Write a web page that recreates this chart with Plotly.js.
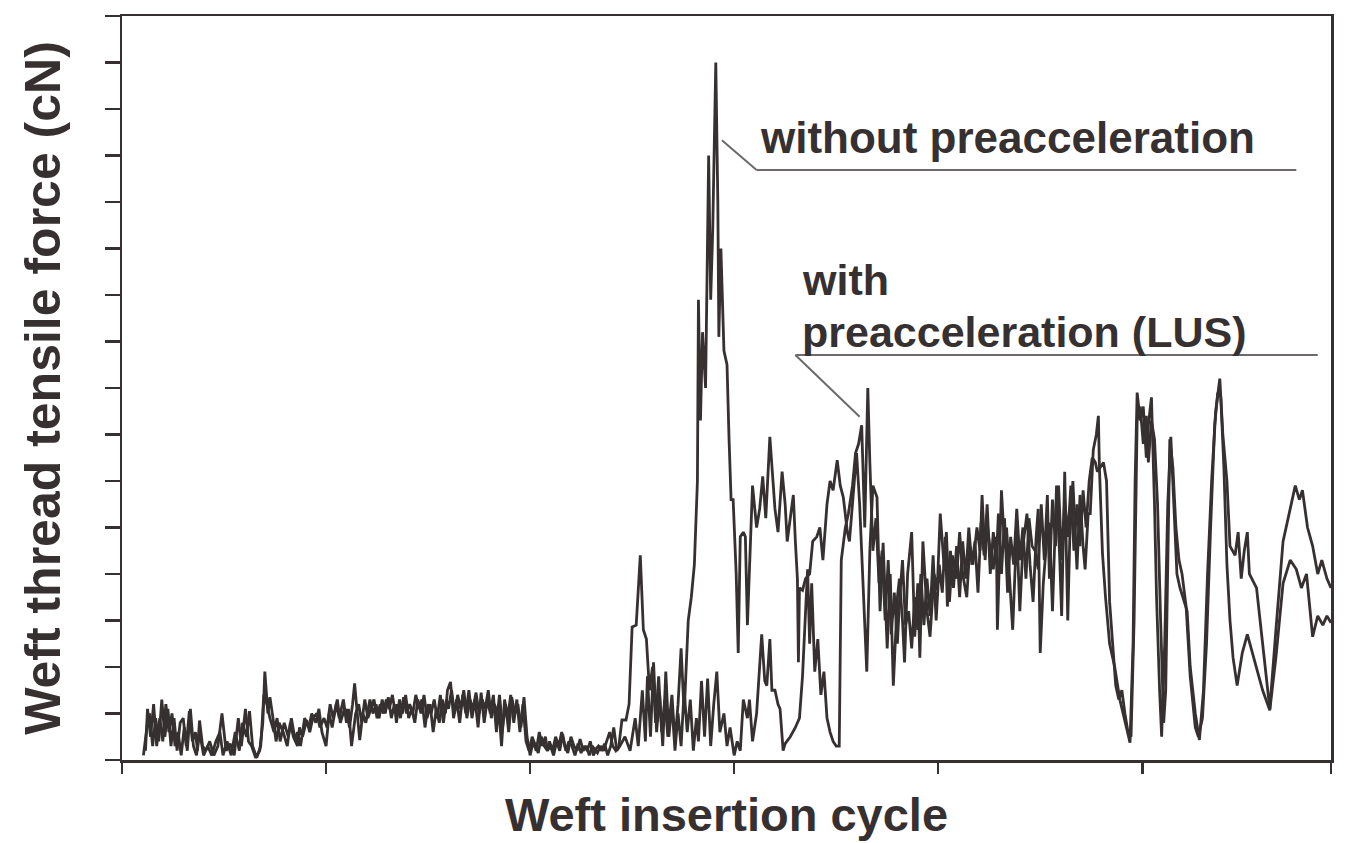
<!DOCTYPE html>
<html>
<head>
<meta charset="utf-8">
<script src="https://cdn.plot.ly/plotly-3.0.1.min.js"></script>
<style>
html,body{margin:0;padding:0;background:#ffffff;}
#chart{width:1345px;height:843px;}
</style>
</head>
<body>
<div id="chart"></div>
<script>
// Weft insertion cycle (arbitrary cycle units) and tensile force (cN)
const withoutX = [2.1,2.5,2.7,3.0,3.3,3.6,3.9,4.2,4.5,4.8,5.1,5.4,5.7,6.0,6.3,6.6,6.9,7.2,7.4,7.6,7.9,8.2,8.6,9.0,9.4,9.8,10.2,10.6,11.0,11.4,11.7,12.1,12.4,12.7,13.1,13.5,13.8,14.0,14.3,14.5,14.8,15.1,15.4,15.8,16.2,16.5,16.8,17.2,17.4,17.7,18.1,18.4,18.7,19.1,19.4,19.8,20.1,20.4,20.7,21.1,21.4,21.8,22.0,22.3,22.6,22.8,23.1,23.3,23.6,23.9,24.3,24.6,24.9,25.2,25.5,25.8,26.1,26.4,26.7,26.9,27.2,27.5,27.8,28.1,28.4,28.7,29.0,29.3,29.6,29.9,30.2,30.5,30.8,31.1,31.4,31.7,31.9,32.2,32.5,32.8,33.1,33.4,33.7,34.0,34.3,34.6,34.9,35.2,35.5,35.8,36.1,36.4,36.7,36.9,37.2,37.5,37.8,38.1,38.4,38.7,39.0,39.3,39.6,39.9,40.2,40.5,40.8,41.1,41.4,41.7,41.9,42.2,42.5,42.8,43.1,43.4,43.7,44.0,44.3,44.6,44.9,45.2,45.5,45.8,46.1,46.4,46.6,46.9,47.2,47.5,47.8,48.1,48.4,48.7,49.0,49.4,49.7,50.0,50.4,50.8,51.1,51.4,51.7,52.0,52.3,52.6,52.9,53.2,53.5,53.9,54.2,54.5,54.8,55.1,55.5,55.8,56.1,56.4,56.5,56.7,56.9,57.2,57.5,57.7,57.9,58.2,58.4,58.5,58.7,59.0,59.3,59.5,59.7,59.9,60.2,60.4,60.6,60.9,61.1,61.3,61.6,61.8,62.2,62.5,62.8,63.1,63.5,63.8,64.0,64.3,64.7,65.0,65.2,65.5,65.8,66.0,66.2,66.3,66.4,66.7,67.0,67.4,67.7,68.1,68.4,68.7,69.1,69.4,69.7,70.1,70.4,70.7,71.1,71.3,71.6,72.0,72.3,72.6,73.0,73.3,73.6,74.0,74.3,74.6,75.0,75.3,75.6,76.0,76.2,76.5,76.7,77.0,77.4,77.7,78.0,78.2,78.5,78.9,79.2,79.6,79.9,80.2,80.6,80.8,81.1,81.4,81.8,82.1,82.4,82.8,83.1,83.4,83.8,84.1,84.3,84.6,84.8,85.1,85.4,85.7,85.8,86.2,86.5,86.7,87.0,87.3,87.7,88.0,88.3,88.7,89.0,89.3,89.6,89.8,90.0,90.3,90.7,90.9,91.2,91.6,91.9,92.1,92.4,92.7,92.9,93.2,93.6,93.9,94.2,94.4,94.7,94.9,95.2,95.5,95.7,95.8,96.1,96.4,96.8,97.3,97.8,98.3,98.8,99.1,99.3,99.5,99.8,100.1,100.4,100.6,100.9,101.2,101.4,101.7,101.9,102.2,102.5,102.8,103.1,103.4,103.7,104.1,104.4,104.7,105.2,105.6,106.0,106.4,106.8,107.2,107.6,107.9,108.3,108.6,109.1,109.4,109.7,110.0,110.3,110.5,111.2,111.8,112.5,113.1,113.8,114.5,115.0,115.4,115.7,116.2,116.7,117.2,117.6,118.1,118.5];
const withoutY = [1,8,10,3,9,4,13,5,11,3,9,2,8,9,3,10.5,4,6,2,8.5,3,2,4,1,3,10,2,3.5,1,9,3,11,4,3,0.5,2,8,19,10,13.5,9,4,8,6,3,8,5,3,7,5,8.6,6,9,10,7,9,7,12,9,13,8,11,10.7,7,12,16.5,9,4.3,10,8,13,10,12,9,13,10,13.5,9,12,8,13,10,14,9,11,8,13,10,14,9,12,6,11,8,13,10,15,16.8,9,13,8,14,10,15,9,13,7,14.5,8,13,10,14,6,12,3,13,9,14,8,13,6,12,4,2,5,3,1.5,5,3,2,4,2,5,3,6,3,1.5,5,3,2,4.5,2,3,1,3,2,1.5,3,2,4,6,3,2,3,8.6,8.6,12,28.6,29,44,28,26,15,20,8,18,6,13,5,14,4,12,24,10,30,35,42,60,99,73,92,80,130,99,114,150,120,91,110,88,85,69,56,56,40,23,48,49,48,29,50,59,50,54,61,52,69.5,59,54,49,62,55,47,52,57,47,39,21,37,36.5,39,40,47,48,50,43,55,60,58,64.5,59,56.5,49,47,56,66,55,40,19,45,59,56.5,32,46.7,24,40,16,35,39,30,21,40,49,26.5,38,22,47,32,26.5,40,36.5,53,41,49,34,44,39,49,40,35,46,42,50,45,57,43,51,45,41,48,28,58,46,50,40,28,50,32,46,53,42,34,48,54,23,38,49,51,32,59,44,31,62,30,48,60,41,57,46,41,53,53,66.7,70,74,63,44.5,35,25,20,13,8,3.7,25,60,79,73,76,65,72,78,55,35,15,5,25,55,69.5,53,40,37,34,32,20,10,4.3,15,40,60,75,82,70,60,46,44,49,39,45,49,40,37,25,11,28,47,54,59,56,58,50,46,40,43,39,37];

const withX = [2.3,2.5,2.8,3.1,3.4,3.7,4.0,4.3,4.6,4.9,5.2,5.5,5.8,6.1,6.4,6.7,7.0,7.3,7.6,8.0,8.4,8.8,9.2,9.6,9.9,10.3,10.7,11.1,11.5,11.8,12.2,12.5,12.8,13.2,13.6,13.9,14.2,14.5,14.9,15.2,15.5,15.9,16.3,16.6,17.0,17.2,17.5,17.9,18.3,18.6,19.0,19.3,19.6,20.0,20.3,20.6,21.0,21.3,21.7,22.0,22.2,22.5,22.9,23.2,23.5,23.8,24.1,24.4,24.7,25.0,25.3,25.6,25.9,26.2,26.5,26.8,27.0,27.3,27.6,27.9,28.2,28.5,28.8,29.1,29.4,29.7,30.0,30.3,30.6,30.9,31.2,31.5,31.8,32.0,32.3,32.6,32.9,33.2,33.5,33.8,34.1,34.4,34.7,35.0,35.3,35.6,35.9,36.2,36.5,36.8,37.0,37.3,37.6,37.9,38.2,38.5,38.8,39.1,39.4,39.7,40.0,40.3,40.6,40.9,41.2,41.5,41.7,42.0,42.3,42.6,42.9,43.2,43.5,43.8,44.1,44.4,44.7,45.0,45.3,45.6,45.9,46.2,46.5,46.7,47.0,47.3,47.6,47.9,48.2,48.5,48.8,49.3,49.8,50.3,50.6,51.0,51.3,51.5,51.8,52.1,52.4,52.7,53.0,53.3,53.6,53.9,54.2,54.5,54.8,55.1,55.4,55.7,56.0,56.3,56.5,56.8,57.1,57.4,57.7,58.0,58.3,58.6,59.0,59.3,59.6,60.0,60.3,60.6,60.9,61.3,61.5,61.8,62.2,62.7,63.0,63.2,63.5,63.7,64.0,64.3,64.5,64.8,65.0,65.5,66.0,66.4,66.7,67.0,67.2,67.4,67.6,67.9,68.2,68.5,68.8,69.1,69.4,69.7,70.0,70.3,70.5,70.9,71.2,71.6,71.9,72.2,72.5,72.8,73.1,73.3,73.6,73.9,74.2,74.5,74.8,75.1,75.4,75.7,76.0,76.2,76.5,76.8,77.1,77.4,77.7,78.0,78.3,78.6,78.9,79.2,79.5,79.8,80.1,80.4,80.7,80.9,81.2,81.5,81.8,82.1,82.4,82.7,83.0,83.3,83.6,83.9,84.2,84.5,84.8,85.1,85.4,85.7,85.9,86.2,86.5,86.8,87.1,87.4,87.7,88.0,88.3,88.6,88.9,89.2,89.5,89.8,90.1,90.4,90.7,90.9,91.2,91.5,91.8,92.1,92.4,92.7,93.0,93.3,93.6,93.9,94.2,94.5,94.8,95.1,95.4,95.6,95.9,96.2,96.5,96.8,97.1,97.4,97.7,98.0,98.3,98.6,98.9,99.2,99.5,99.8,100.1,100.4,100.6,100.9,101.2,101.5,101.8,102.1,102.3,102.5,102.7,103.0,103.3,103.6,103.9,104.3,104.7,105.2,105.5,105.9,106.3,106.7,107.1,107.4,107.7,108.0,108.3,108.6,108.9,109.3,109.8,110.3,110.8,111.2,111.8,112.5,113.1,113.8,114.5,115.1,115.6,116.1,116.7,117.2,117.7,118.1,118.5];
const withY = [2,11,5,12,3,9,4,12,6,10,3,6,1,7,2,11,3,1,6,1,3,1,4,6,1,4,1,6,2,8,5,10.5,3,0.5,3,14,12,9,6,9,4,8,5,9,4,6,3,9,7,10,8,11,6,3,10,7,12,9,13,8,11,3,10,12,8,13,9,11,13,9,12,10,13,11,14,10,12,9,13.5,10,12,10,14,11,13,7,12,10,13,9,14,8,13,11,15,10,14,11,15,9,13,11,14.5,10,13,11,15,9,12,10,14,7,12,6,13.5,10,12,7,13.5,5,1,4,2,6,3,5,2,3,1,4,2,5.5,2,4,3,1,3.5,1.5,3,2,4,1,2.5,3,2,3.5,1,3,7,2,3,5,2,9,3,15,4,18,5,21,6,14,3,19,5,12,2,10,3,15,6,13,2,9,4,17,5,17.5,3,12,19,6,10,3,7,1,4,2,13,9,13,4,10,27,17,16,26,15,15,12,11,2,3.5,5,7,9,18,32,41,25,38,19,26,14,19,9,6,4,3,3,43,50,53,59,66,68,72,50,80,64,45,52,38,45,30,43,27,36,25,34,43,29,32,24,35,28,40,29,39,31,44,30,42,36,48,33,45,37,46,35,47,39,50,42,47,36,51,44,55,40,49,43,53,40,52,36,48,42,54,43,50,39,52,46,45,41,55,43,57,39,56,46,59,43,56,48,59,45,55,46,58,50,60,65,64,62,63,64,60,34,25,16,13,15,10,6,5,30,73,76,68,74,64,73,69,55,30,8,15,40,69,63,50,43,40,33,18,7,5,9,25,50,72,79,78,63,42,30,22,16,23,27,23,20,15,10.7,22,38,43,41,37,40,26.5,31,29,31,29.5];

const seriesNames = ['without preacceleration', 'with preacceleration (LUS)'];
const xTitle = 'Weft insertion cycle';
const yTitle = 'Weft thread tensile force (cN)';

const ink = '#363031';
const pointerInk = '#6e6a6a';
const fontFam = '"Liberation Sans", Arial, Helvetica, sans-serif';

const traces = [
  {x: withoutX, y: withoutY, name: seriesNames[0], type: 'scatter', mode: 'lines',
   line: {color: ink, width: 2.8}, hoverinfo: 'skip'},
  {x: withX, y: withY, name: seriesNames[1], type: 'scatter', mode: 'lines',
   line: {color: ink, width: 2.8}, hoverinfo: 'skip'}
];

const xMax = 118.5;

const layout = {
  width: 1345, height: 843,
  margin: {l: 122, r: 14, t: 16, b: 83},
  paper_bgcolor: '#ffffff', plot_bgcolor: '#ffffff',
  showlegend: false,
  font: {family: fontFam, color: ink},
  xaxis: {
    range: [0, xMax], showgrid: false, zeroline: false,
    showline: true, linecolor: ink, linewidth: 2.5, mirror: true,
    ticks: 'outside', ticklen: 11, tickwidth: 2.5, tickcolor: ink,
    tickvals: [0, 20, 40, 60, 80, 100, xMax], showticklabels: false,
    title: {text: '<b>' + xTitle + '</b>', font: {size: 47, color: ink, family: fontFam}, standoff: 26}
  },
  yaxis: {
    range: [0, 160], showgrid: false, zeroline: false,
    showline: true, linecolor: ink, linewidth: 2.5, mirror: true,
    ticks: 'outside', ticklen: 15, tickwidth: 2.5, tickcolor: ink,
    tick0: 0, dtick: 10, showticklabels: false,
    title: {text: '<b>' + yTitle + '</b>', font: {size: 50, color: ink, family: fontFam}, standoff: 28}
  },
  shapes: [
    {type: 'line', xref: 'x', yref: 'y', x0: 62.2, y0: 126.9, x1: 115.1, y1: 126.9, line: {color: pointerInk, width: 2}},
    {type: 'line', xref: 'x', yref: 'y', x0: 62.2, y0: 126.9, x1: 58.8, y1: 133.3, line: {color: pointerInk, width: 2}},
    {type: 'line', xref: 'x', yref: 'y', x0: 66.0, y0: 87.1, x1: 117.2, y1: 87.1, line: {color: pointerInk, width: 2}},
    {type: 'line', xref: 'x', yref: 'y', x0: 66.0, y0: 87.1, x1: 72.3, y1: 73.8, line: {color: pointerInk, width: 2}}
  ],
  annotations: [
    {text: '<b>without preacceleration</b>', x: 62.4, y: 133.8, xref: 'x', yref: 'y', xanchor: 'left', yanchor: 'middle', showarrow: false, borderpad: 0, font: {size: 44, color: ink, family: fontFam}},
    {text: '<b>with</b>', x: 66.6, y: 97.9, xref: 'x', yref: 'y', xanchor: 'left', yanchor: 'bottom', showarrow: false, borderpad: 0, font: {size: 43, color: ink, family: fontFam}},
    {text: '<b>preacceleration (LUS)</b>', x: 66.6, y: 97.5, xref: 'x', yref: 'y', xanchor: 'left', yanchor: 'top', showarrow: false, borderpad: 0, font: {size: 43, color: ink, family: fontFam}}
  ]
};

Plotly.newPlot('chart', traces, layout, {staticPlot: true, displayModeBar: false});
</script>
</body>
</html>
